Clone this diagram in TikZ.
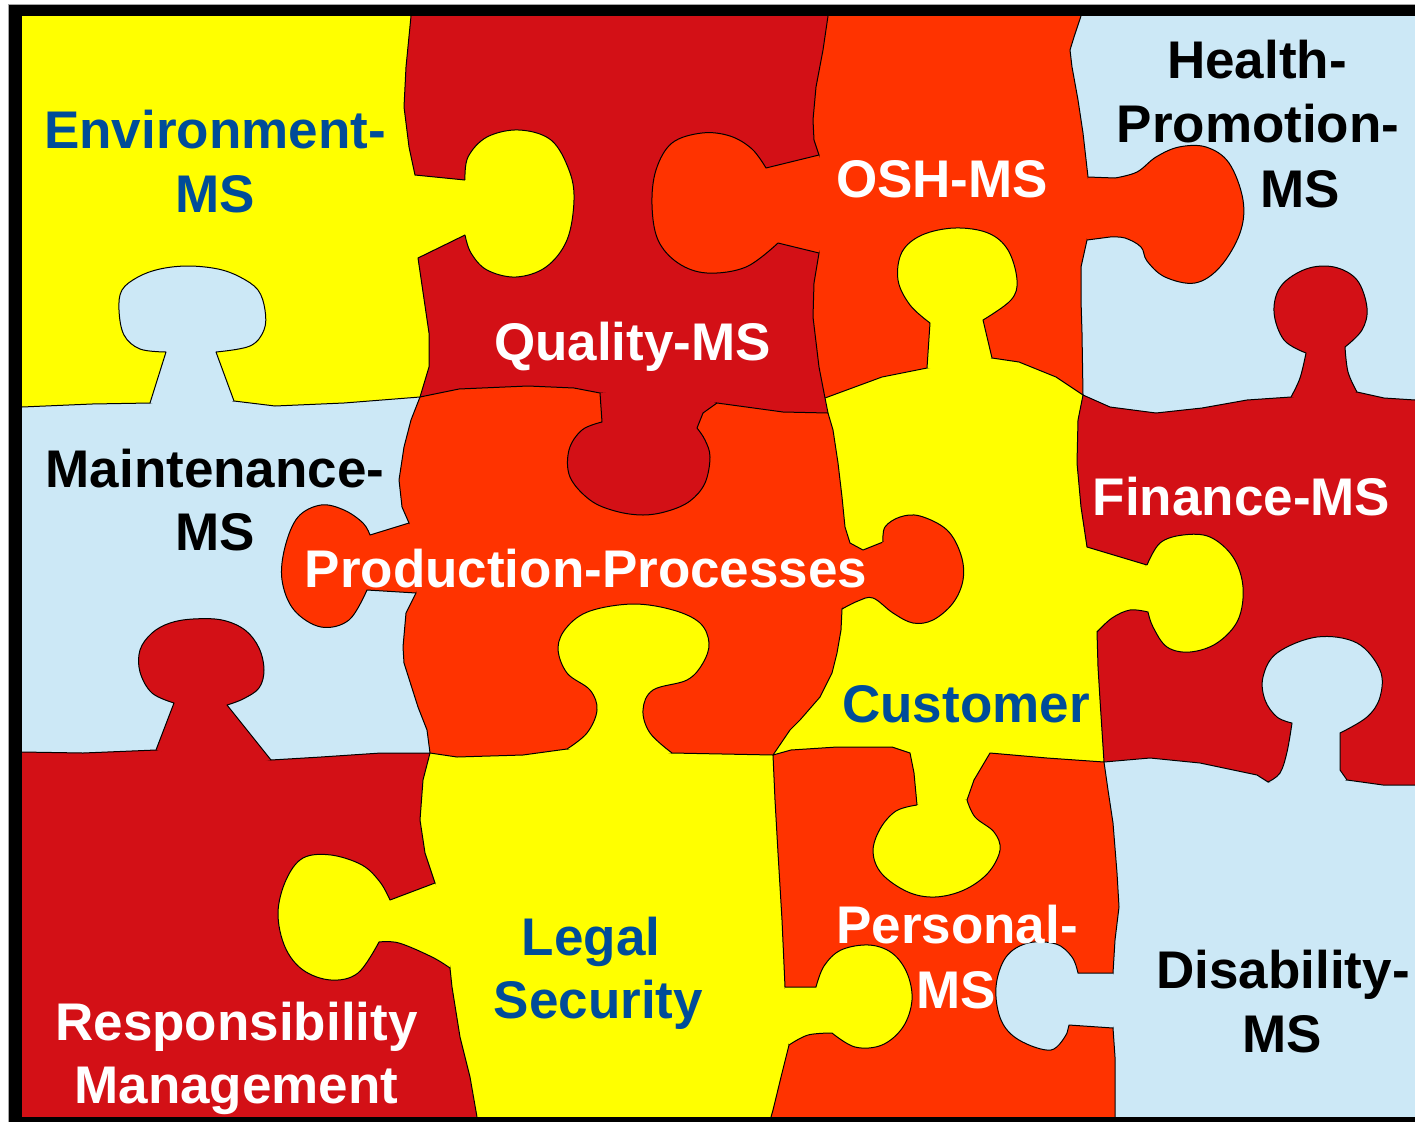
\documentclass[tikz,border=0pt]{standalone}
\usepackage{fontspec}
\setmainfont{Liberation Sans}
\definecolor{cyel}{RGB}{255,255,0}
\definecolor{cred}{RGB}{211,16,22}
\definecolor{cora}{RGB}{255,51,0}
\definecolor{cblu}{RGB}{204,232,246}
\definecolor{ctxt}{RGB}{0,76,153}
% boundaries (forward and reversed), each starting with --
\def\HA{-- (22,407) -- (92,404) -- (150,403) -- (234,401) -- (275,406) -- (344,403) -- (420,397)}
\def\HAr{-- (420,397) -- (344,403) -- (275,406) -- (234,401) -- (150,403) -- (92,404) -- (22,407)}
\def\HB{-- (420,397) -- (459,389) -- (528,386) -- (574,388) -- (600,393) -- (717,403) -- (783,412) -- (828,413)}
\def\HBr{-- (828,413) -- (783,412) -- (717,403) -- (600,393) -- (574,388) -- (528,386) -- (459,389) -- (420,397)}
\def\HC{-- (825,398) -- (882,377) -- (927,368) -- (992,358) -- (1019,362) -- (1056,377) -- (1083,395)}
\def\HCr{-- (1083,395) -- (1056,377) -- (1019,362) -- (992,358) -- (927,368) -- (882,377) -- (825,398)}
\def\HD{-- (1083,395) -- (1110,407) -- (1156,413) -- (1202,408) -- (1247,400) -- (1291,397) -- (1357,392) -- (1384,398) -- (1415,400)}
\def\HDr{-- (1415,400) -- (1384,398) -- (1357,392) -- (1291,397) -- (1247,400) -- (1202,408) -- (1156,413) -- (1110,407) -- (1083,395)}
\def\HE{-- (22,752) -- (83,753) -- (156,750) -- (271,760) -- (321,757) -- (381,753) -- (430,753)}
\def\HEr{-- (430,753) -- (381,753) -- (321,757) -- (271,760) -- (156,750) -- (83,753) -- (22,752)}
\def\HF{-- (430,753) -- (457,757) -- (523,755) -- (567,749) -- (672,753) -- (773,755)}
\def\HFr{-- (773,755) -- (672,753) -- (567,749) -- (523,755) -- (457,757) -- (430,753)}
\def\HG{-- (773,755) -- (791,750) -- (837,747) -- (892,747) -- (910,753) -- (914,773) -- (917,805) -- (967,800) -- (974,780) -- (990,753) -- (1047,758) -- (1104,762)}
\def\HGr{-- (1104,762) -- (1047,758) -- (990,753) -- (974,780) -- (967,800) -- (917,805) -- (914,773) -- (910,753) -- (892,747) -- (837,747) -- (791,750) -- (773,755)}
\def\HH{-- (1104,762) -- (1150,758) -- (1200,763) -- (1257,775) -- (1268,782) -- (1347,780) -- (1383,785) -- (1415,785)}
\def\HHr{-- (1415,785) -- (1383,785) -- (1347,780) -- (1268,782) -- (1257,775) -- (1200,763) -- (1150,758) -- (1104,762)}
\def\VA{-- (411,16) -- (406,67) -- (404,107) -- (409,147) -- (415,175) -- (465,180) -- (465,235) -- (418,258) -- (429,333) -- (429,367) -- (420,397)}
\def\VAr{-- (420,397) -- (429,367) -- (429,333) -- (418,258) -- (465,235) -- (465,180) -- (415,175) -- (409,147) -- (404,107) -- (406,67) -- (411,16)}
\def\VB{-- (828,16) -- (823,50) -- (816,87) -- (813,120) -- (814,140) -- (819,155) -- (819,253) -- (814,283) -- (813,317) -- (819,367) -- (825,398)}
\def\VBr{-- (825,398) -- (819,367) -- (813,317) -- (814,283) -- (819,253) -- (819,155) -- (814,140) -- (813,120) -- (816,87) -- (823,50) -- (828,16)}
\def\VC{-- (1081,16) -- (1074,37) -- (1070,50) -- (1072,67) -- (1078,100) -- (1083,133) -- (1088,177) -- (1087,240) -- (1081,267) -- (1081,300) -- (1082,333) -- (1083,395)}
\def\VCr{-- (1083,395) -- (1082,333) -- (1081,300) -- (1081,267) -- (1087,240) -- (1088,177) -- (1083,133) -- (1078,100) -- (1072,67) -- (1070,50) -- (1074,37) -- (1081,16)}
\def\VD{-- (420,397) -- (411,420) -- (404,447) -- (399,480) -- (402,507) -- (409,523) -- (416,593) -- (406,613) -- (403,647) -- (404,663) -- (418,707) -- (427,730) -- (430,753)}
\def\VDr{-- (430,753) -- (427,730) -- (418,707) -- (404,663) -- (403,647) -- (406,613) -- (416,593) -- (409,523) -- (402,507) -- (399,480) -- (404,447) -- (411,420) -- (420,397)}
\def\VE{-- (828,413) -- (833,430) -- (838,463) -- (842,497) -- (845,527) -- (850,543) -- (863,550) -- (883,542) -- (842,609) -- (841,630) -- (837,653) -- (832,673) -- (820,697) -- (800,720) -- (790,730) -- (773,755)}
\def\VEr{-- (773,755) -- (790,730) -- (800,720) -- (820,697) -- (832,673) -- (837,653) -- (841,630) -- (842,609) -- (883,542) -- (863,550) -- (850,543) -- (845,527) -- (842,497) -- (838,463) -- (833,430) -- (828,413)}
\def\VF{-- (1083,395) -- (1078,420) -- (1077,463) -- (1081,507) -- (1087,547) -- (1147,565) -- (1097,632) -- (1098,667) -- (1100,700) -- (1104,762)}
\def\VFr{-- (1104,762) -- (1100,700) -- (1098,667) -- (1097,632) -- (1147,565) -- (1087,547) -- (1081,507) -- (1077,463) -- (1078,420) -- (1083,395)}
\def\VG{-- (430,753) -- (423,780) -- (420,820) -- (425,853) -- (435,883) -- (450,968) -- (452,987) -- (460,1037) -- (470,1077) -- (477,1117)}
\def\VGr{-- (477,1117) -- (470,1077) -- (460,1037) -- (452,987) -- (450,968) -- (435,883) -- (425,853) -- (420,820) -- (423,780) -- (430,753)}
\def\VH{-- (773,755) -- (775,800) -- (778,853) -- (782,920) -- (785,987) -- (789,1045) -- (782,1073) -- (773,1110) -- (771,1117)}
\def\VHr{-- (771,1117) -- (773,1110) -- (782,1073) -- (789,1045) -- (785,987) -- (782,920) -- (778,853) -- (775,800) -- (773,755)}
\def\VI{-- (1104,762) -- (1108,790) -- (1113,823) -- (1117,873) -- (1119,907) -- (1115,940) -- (1113,973) -- (1113,1028) -- (1115,1057) -- (1115,1117)}
\def\VIr{-- (1115,1117) -- (1115,1057) -- (1113,1028) -- (1113,973) -- (1115,940) -- (1119,907) -- (1117,873) -- (1113,823) -- (1108,790) -- (1104,762)}
% knobs (tabs)
\def\KA{plot[smooth,tension=.6] coordinates {(465,180) (468,157) (487,137) (519,130) (551,140) (569,170) (574,200) (567,240) (546,267) (516,277) (487,270) (471,253) (465,235)}}
\def\KB{(819,155) -- plot[smooth,tension=.6] coordinates {(766,168) (752,149) (730,136) (702,133) (672,143) (656,170) (652,205) (658,240) (678,263) (707,273) (746,267) (778,243)} -- (819,253)}
\def\KC{(1088,177) -- plot[smooth,tension=.6] coordinates {(1115,178) (1137,172) (1156,157) (1179,147) (1206,147) (1229,163) (1243,200) (1240,233) (1220,267) (1195,283) (1165,277) (1147,261) (1141,247) (1125,238) (1110,237)} -- (1087,240)}
\def\KD{(150,403) -- plot[smooth,tension=.6] coordinates {(166,352) (140,349) (124,335) (119,310) (122,290) (138,277) (160,269) (188,266) (218,269) (240,277) (258,290) (265,310) (264,330) (250,346) (216,352)} -- (234,401)}
\def\KE{(600,393) -- plot[smooth,tension=.6] coordinates {(602,422) (582,430) (569,450) (570,477) (590,500) (615,511) (643,515) (668,511) (690,501) (705,483) (710,457) (705,440) (697,428)} -- (703,413) -- (717,403)}
\def\KF{(927,368) -- plot[smooth,tension=.6] coordinates {(930,323) (910,305) (898,280) (902,252) (922,235) (955,228) (988,233) (1008,250) (1017,280) (1011,300) (983,320)} -- (992,358)}
\def\KG{plot[smooth,tension=.6] coordinates {(1291,397) (1300,378) (1306,353)} -- plot[smooth,tension=.6] coordinates {(1306,353) (1284,340) (1274,312) (1281,286) (1306,269) (1334,267) (1357,280) (1367,308) (1362,330) (1345,347)} -- plot[smooth,tension=.6] coordinates {(1345,347) (1348,372) (1357,392)}}
\def\KH{(409,523) -- plot[smooth,tension=.6] coordinates {(370,535) (363,523) (344,510) (321,505) (298,517) (285,547) (282,580) (294,610) (321,627) (349,620) (367,590)} -- (416,593)}
\def\KI{plot[smooth,tension=.6] coordinates {(883,542) (885,527) (900,517) (920,516) (947,530) (961,555) (963,580) (953,603) (933,620) (913,623) (893,613) (873,598) (858,601) (842,609)}}
\def\KJ{plot[smooth,tension=.6] coordinates {(1147,565) (1160,543) (1183,535) (1210,537) (1233,557) (1243,587) (1238,620) (1217,643) (1190,652) (1167,647) (1153,627) (1148,612)} -- plot[smooth,tension=.6] coordinates {(1148,612) (1130,610) (1112,618) (1097,632)}}
\def\KK{(156,750) -- plot[smooth,tension=.6] coordinates {(174,703) (152,693) (140,672) (140,650) (152,633) (170,623) (193,619) (222,620) (245,630) (259,648) (264,670) (259,688) (243,699) (227,705)} -- (271,760)}
\def\KL{plot[smooth,tension=.6] coordinates {(567,749) (587,733) (597,710) (590,690) (567,673) (558,648) (567,627) (590,611) (633,604) (673,610) (700,623) (709,643) (703,663) (687,680) (653,690) (643,710) (650,733) (672,753)}}
\def\KM{plot[smooth,tension=.6] coordinates {(917,805) (896,811) (880,829) (873,852) (882,874) (908,892) (935,897) (964,890) (988,873) (1000,850) (994,832) (975,817) (967,800)}}
\def\KN{plot[smooth,tension=.6] coordinates {(1268,782) (1280,773) (1287,752) (1292,723)} -- plot[smooth,tension=.6] coordinates {(1292,723) (1277,717) (1265,700) (1263,677) (1277,653) (1317,637) (1357,643) (1380,670) (1380,697) (1367,717) (1340,733)} -- (1340,770) -- (1347,780)}
\def\KO{(435,883) -- plot[smooth,tension=.6] coordinates {(390,900) (380,882) (362,865) (331,855) (303,858) (286,880) (278,913) (285,947) (303,970) (331,980) (358,973) (379,942)} -- plot[smooth,tension=.6] coordinates {(379,942) (399,943) (432,957) (450,968)}}
\def\KP{(785,987) -- plot[smooth,tension=.6] coordinates {(816,987) (824,966) (841,950) (869,945) (892,953) (907,973) (912,1000) (903,1027) (882,1045) (855,1047) (832,1033)} -- plot[smooth,tension=.6] coordinates {(832,1033) (808,1035) (789,1045)}}
\def\KQ{(1113,973) -- plot[smooth,tension=.6] coordinates {(1078,973) (1072,957) (1056,944) (1028,943) (1006,957) (996,987) (1001,1020) (1019,1040) (1051,1050) (1067,1033)} -- (1069,1025) -- (1113,1028)}
\begin{document}
\begin{tikzpicture}[x=1pt,y=-1pt,
  bd/.style={draw=black,line width=1pt,line join=round},
  lbl/.style={font=\fontsize{53}{63}\selectfont\bfseries,inner sep=0pt,anchor=base}]
\useasboundingbox (0,0) rectangle (1415,1122);
\fill[white] (0,0) rectangle (1415,1122);
% cells
\fill[cyel] (22,16) \VA \HAr -- cycle;
\fill[cred] (828,16) \VB -- (828,413) \HBr \VAr -- cycle;
\fill[cora] (1081,16) \VC \HCr \VBr -- cycle;
\fill[cblu] (1415,16) -- (1415,400) \HDr \VCr -- cycle;
\fill[cblu] (22,407) \HA \VD \HEr -- cycle;
\fill[cora] (420,397) \HB \VE \HFr \VDr -- cycle;
\fill[cyel] (825,398) \HC \VF \HGr \VEr -- cycle;
\fill[cred] (1083,395) \HD -- (1415,785) \HHr \VFr -- cycle;
\fill[cred] (22,752) \HE \VG -- (22,1117) -- cycle;
\fill[cyel] (430,753) \HF \VH -- (477,1117) \VGr -- cycle;
\fill[cora] (773,755) \HG \VI -- (771,1117) \VHr -- cycle;
\fill[cblu] (1104,762) \HH -- (1415,1117) -- (1115,1117) \VIr -- cycle;
% cell borders
\draw[bd] (22,407) \HA;  \draw[bd] (420,397) \HB;  \draw[bd] (825,398) \HC;
\draw[bd] (1083,395) \HD; \draw[bd] (22,752) \HE;  \draw[bd] (430,753) \HF;
\draw[bd] (773,755) \HG; \draw[bd] (1104,762) \HH;
\draw[bd] (411,16) \VA;  \draw[bd] (828,16) \VB;   \draw[bd] (1081,16) \VC;
\draw[bd] (420,397) \VD; \draw[bd] (828,413) \VE;  \draw[bd] (1083,395) \VF;
\draw[bd] (430,753) \VG; \draw[bd] (773,755) \VH;  \draw[bd] (1104,762) \VI;
\draw[bd] (825,398) -- (828,413);
% tabs
\fill[cyel] \KA -- (447,208) -- cycle;   \draw[bd] \KA;
\fill[cora] \KB -- (832,204) -- cycle;   \draw[bd] \KB;
\fill[cora] \KC -- (1075,208) -- cycle;  \draw[bd] \KC;
\fill[cblu] \KD -- (192,415) -- cycle;   \draw[bd] \KD;
\fill[cred] \KE -- (658,388) -- cycle;   \draw[bd] \KE;
\fill[cyel] \KF -- (960,374) -- cycle;   \draw[bd] \KF;
\fill[cred] \KG -- (1324,405) -- cycle;  \draw[bd] \KG;
\fill[cora] \KH -- (426,558) -- cycle;   \draw[bd] \KH;
\fill[cora] \KI -- (852,570) -- cycle;   \draw[bd] \KI;
\fill[cyel] \KJ -- (1112,592) -- cycle;  \draw[bd] \KJ;
\fill[cred] \KK -- (213,768) -- cycle;   \draw[bd] \KK;
\fill[cyel] \KL -- (620,763) -- cycle;   \draw[bd] \KL;
\fill[cyel] \KM -- (942,792) -- cycle;   \draw[bd] \KM;
\fill[cblu] \KN -- (1308,793) -- cycle;  \draw[bd] \KN;
\fill[cyel] \KO -- (453,925) -- cycle;   \draw[bd] \KO;
\fill[cyel] \KP -- (775,1016) -- cycle;  \draw[bd] \KP;
\fill[cblu] \KQ -- (1125,1000) -- cycle; \draw[bd] \KQ;
% labels
\node[lbl,text=ctxt]  (tEnvA) at (215,148) {Environment-};
\node[lbl,text=ctxt]  (tEnvB) at (215.5,212) {MS};
\node[lbl,text=white] (tQual) at (632.5,360) {Quality-MS};
\node[lbl,text=white] (tOSH)  at (942,197) {OSH-MS};
\node[lbl,text=black] (tHeaA) at (1257,78) {Health-};
\node[lbl,text=black] (tHeaB) at (1258,142) {Promotion-};
\node[lbl,text=black] (tHeaC) at (1300,207) {MS};
\node[lbl,text=black] (tMaiA) at (215,487) {Maintenance-};
\node[lbl,text=black] (tMaiB) at (215,550) {MS};
\node[lbl,text=white] (tProd) at (586,587) {Production-Processes};
\node[lbl,text=white] (tFin)  at (1241.5,515) {Finance-MS};
\node[lbl,text=ctxt]  (tCus)  at (966,722) {Customer};
\node[lbl,text=ctxt]  (tLegA) at (591,955) {Legal};
\node[lbl,text=ctxt]  (tLegB) at (598.5,1018) {Security};
\node[lbl,text=white] (tPerA) at (957,943) {Personal-};
\node[lbl,text=white] (tPerB) at (956,1008) {MS};
\node[lbl,text=black] (tDisA) at (1283,988) {Disability-};
\node[lbl,text=black] (tDisB) at (1282,1052) {MS};
\node[lbl,text=white] (tResA) at (236.5,1040) {Responsibility};
\node[lbl,text=white] (tResB) at (236.5,1103) {Management};
% frame
\fill[black] (9,5) rectangle (1415,16);
\fill[black] (9,5) rectangle (22,1122);
\fill[black] (9,1117) rectangle (1415,1122);
\draw[gray!70,line width=0.8pt] (8.5,1122) -- (8.5,4.5) -- (1415,4.5);
\end{tikzpicture}
\end{document}
